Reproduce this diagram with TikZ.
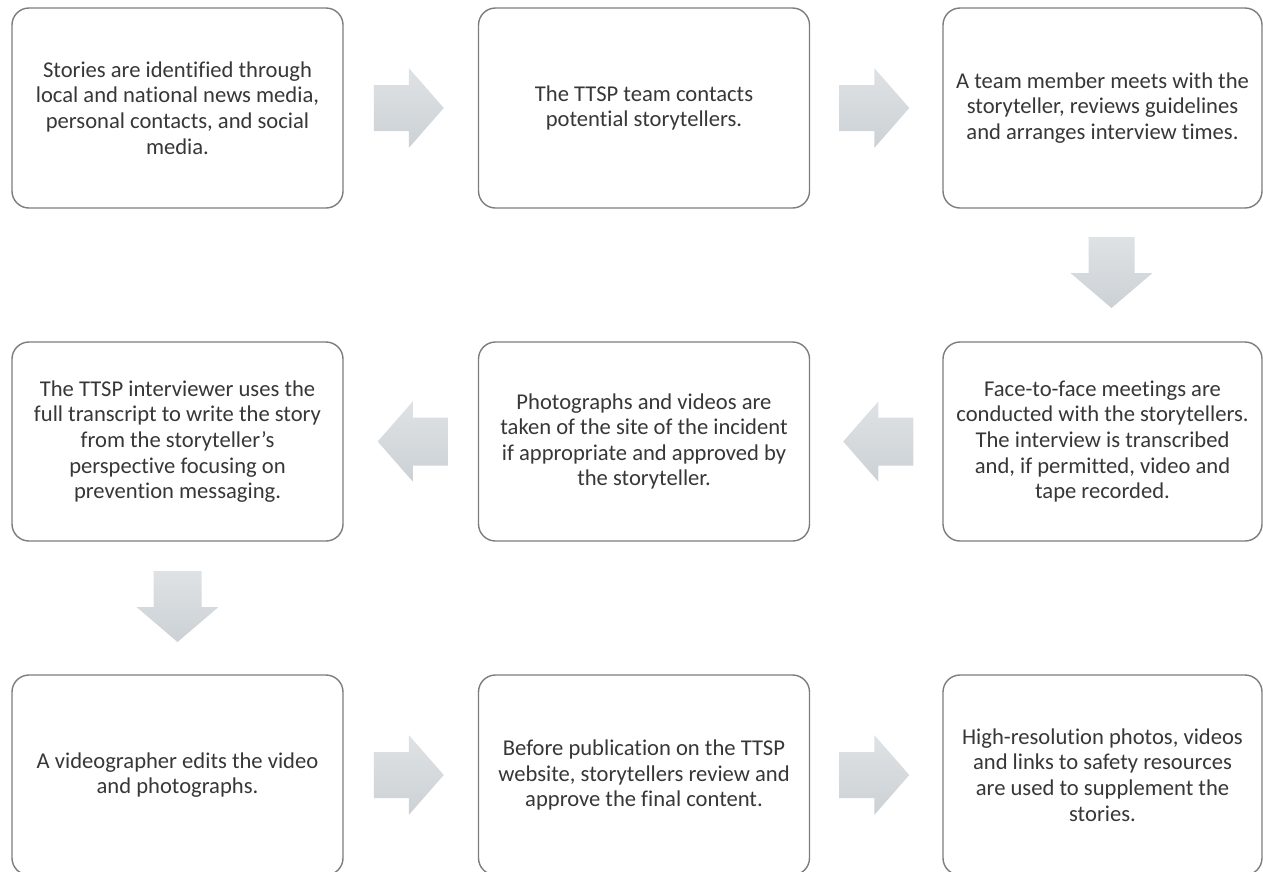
\documentclass[tikz,border=0pt]{standalone}
\usepackage{fontspec}
\setmainfont{Carlito}[Ligatures=NoCommon]
\usetikzlibrary{calc}
\definecolor{boxline}{RGB}{125,125,125}
\definecolor{txt}{RGB}{55,55,55}
\definecolor{arrtop}{RGB}{222,226,229}
\definecolor{arrbot}{RGB}{204,209,213}
\begin{document}
\begin{tikzpicture}[x=1pt,y=-1pt,
  stepbox/.style={draw=boxline, line width=1.4pt, rounded corners=17pt,
    fill=white, align=center, text=txt, inner sep=0pt,
    font=\fontsize{22.6}{25.6}\selectfont},
  wbox/.style={stepbox, minimum width=331, minimum height=200},
  nbox/.style={stepbox, minimum width=319, minimum height=200},
  blockarrow/.style={top color=arrtop, bottom color=arrbot, draw=none}]
\clip (0,0) rectangle (1263,871);
\fill[white] (0,0) rectangle (1263,871);

% row 1
\node[wbox] (s1) at (177.5,108) {Stories are identified through\\local and national news media,\\personal contacts, and social\\media.};
\node[wbox] (s2) at (644,108) {The TTSP team contacts\\potential storytellers.};
\node[nbox] (s3) at (1102.5,108) {A team member meets with the\\storyteller, reviews guidelines\\and arranges interview times.};
% row 2
\node[nbox, minimum height=199] (s4) at (1102.5,441.5) {Face-to-face meetings are\\conducted with the storytellers.\\The interview is transcribed\\and, if permitted, video and\\tape recorded.};
\node[wbox, minimum height=199] (s5) at (644,441.5) {Photographs and videos are\\taken of the site of the incident\\if appropriate and approved by\\the storyteller.};
\node[wbox, minimum height=199] (s6) at (177.5,441.5) {The TTSP interviewer uses the\\full transcript to write the story\\from the storyteller's\\perspective focusing on\\prevention messaging.};
% row 3
\node[wbox] (s7) at (177.5,775) {A videographer edits the video\\and photographs.};
\node[wbox] (s8) at (644,775) {Before publication on the TTSP\\website, storytellers review and\\approve the final content.};
\node[nbox] (s9) at (1102.5,775) {High-resolution photos, videos\\and links to safety resources\\are used to supplement the\\stories.};

% midpoints between consecutive steps
\coordinate (m12) at ($(s1.east)!0.5!(s2.west)$);
\coordinate (m23) at ($(s2.east)!0.5!(s3.west)$);
\coordinate (m34) at ($(s3.south)!0.5!(s4.north)$);
\coordinate (m45) at ($(s5.east)!0.5!(s4.west)$);
\coordinate (m56) at ($(s6.east)!0.5!(s5.west)$);
\coordinate (m67) at ($(s6.south)!0.5!(s7.north)$);
\coordinate (m78) at ($(s7.east)!0.5!(s8.west)$);
\coordinate (m89) at ($(s8.east)!0.5!(s9.west)$);

% block arrows pointing right
\foreach \m in {m12,m23,m78,m89}
  \shade[blockarrow, shift={(\m)}] (-37,-23) -- (-2,-23) -- (-2,-40) -- (33,0)
    -- (-2,40) -- (-2,23) -- (-37,23) -- cycle;
% block arrows pointing left
\foreach \m in {m45,m56}
  \shade[blockarrow, shift={(\m)}] (37,-24) -- (2,-24) -- (2,-40) -- (-33,0)
    -- (2,40) -- (2,24) -- (37,24) -- cycle;
% block arrows pointing down
\shade[blockarrow, shift={(m34)}] (-14,-38) -- (32,-38) -- (32,-2) -- (50,-2)
  -- (9,33) -- (-32,-2) -- (-14,-2) -- cycle;
\shade[blockarrow, shift={(m67)}] (-24,-37) -- (24,-37) -- (24,-1) -- (41,-1)
  -- (0,34) -- (-41,-1) -- (-24,-1) -- cycle;
\end{tikzpicture}
\end{document}
